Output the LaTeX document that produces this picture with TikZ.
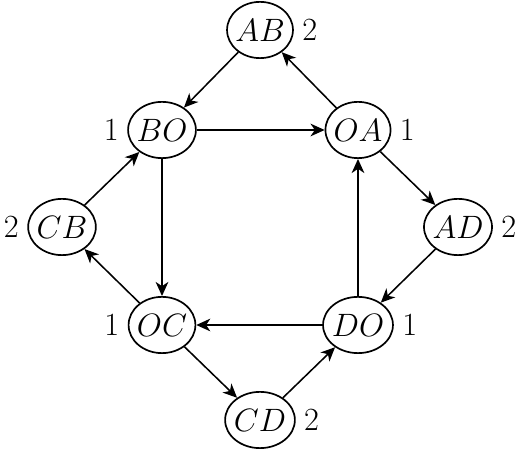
\RequirePackage{fix-cm}
\documentclass[tikz,border=0pt]{standalone}
\usepackage{amsmath,amssymb}
\usetikzlibrary{arrows.meta,shapes.geometric}

\begin{document}
\begin{tikzpicture}[x=0.025cm, y=-0.025cm,
    every node/.style={font=\fontsize{23}{28}\selectfont},
    every label/.style={label distance=2.5pt},
    st/.style={draw, ellipse, line width=1.2pt, inner xsep=-1pt, inner ysep=0pt, minimum width=46pt, minimum height=40pt},
    arr/.style={-{Stealth[length=10pt,width=9pt,inset=3pt]}, line width=1.1pt}]
  \useasboundingbox (0,0) rectangle (520,451);
  % states
  \node[st, label={[name=nab]right:2}] (ab) at (260,30) {$AB$};
  \node[st, label={[name=nbo]left:1}] (bo) at (162,130) {$BO$};
  \node[st, label={[name=noa]right:1}] (oa) at (358,130) {$OA$};
  \node[st, label={[name=ncb]left:2}] (cb) at (62,227) {$CB$};
  \node[st, label={[name=nad]right:2}] (ad) at (458,227) {$AD$};
  \node[st, label={[name=noc]left:1}] (oc) at (162,325) {$OC$};
  \node[st, label={[name=ndo]right:1}] (do) at (358,325) {$DO$};
  \node[st, label={[name=ncd]right:2}] (cd) at (260,420) {$CD$};
  % moves
  \draw[arr] (ab) -- (bo);
  \draw[arr] (oa) -- (ab);
  \draw[arr] (bo) -- (oa);
  \draw[arr] (oa) -- (ad);
  \draw[arr] (ad) -- (do);
  \draw[arr] (do) -- (oa);
  \draw[arr] (do) -- (oc);
  \draw[arr] (bo) -- (oc);
  \draw[arr] (oc) -- (cb);
  \draw[arr] (cb) -- (bo);
  \draw[arr] (oc) -- (cd);
  \draw[arr] (cd) -- (do);
\end{tikzpicture}
\end{document}
